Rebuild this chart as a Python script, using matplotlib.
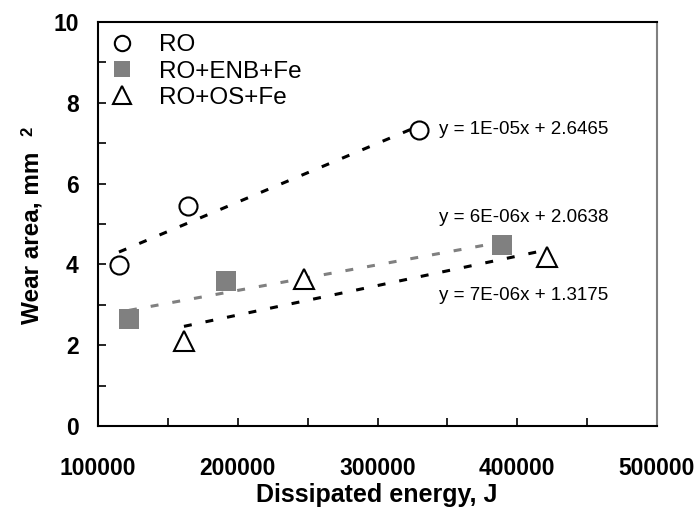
import numpy as np
import matplotlib
matplotlib.use('Agg')
import matplotlib.pyplot as plt

plt.rcParams['font.family'] = ['Liberation Sans', 'DejaVu Sans']

# data
ro_x = [115000, 164500, 329700]
ro_y = [3.98, 5.45, 7.33]
enb_x = [122200, 191600, 389100]
enb_y = [2.65, 3.59, 4.48]
os_x = [161500, 247400, 421300]
os_y = [2.10, 3.64, 4.18]

series_names = ['RO', 'RO+ENB+Fe', 'RO+OS+Fe']
eq_labels = ['y = 1E-05x + 2.6465', 'y = 6E-06x + 2.0638', 'y = 7E-06x + 1.3175']
eq_pos = [(344000, 7.33), (344000, 5.17), (344000, 3.24)]

x_ticks = [100000, 200000, 300000, 400000, 500000]
y_ticks = [0, 2, 4, 6, 8, 10]

fig = plt.figure(figsize=(7.0, 5.13), dpi=100)
ax = fig.add_axes([98 / 700, 1 - 426 / 513, (657 - 98) / 700, (426 - 22) / 513])

gray = '#808080'
trend_colors = ['black', gray, 'black']
series = [(ro_x, ro_y), (enb_x, enb_y), (os_x, os_y)]

# linear trend lines over the data range of each series
for (xs, ys), c in zip(series, trend_colors):
    xs = np.asarray(xs, dtype=float)
    k, b = np.polyfit(xs, ys, 1)
    xx = np.array([xs.min(), xs.max()])
    ax.plot(xx, k * xx + b, color=c, lw=2.2, dashes=(2.6, 4.6),
            dash_capstyle='butt', zorder=2)

ax.plot(ro_x, ro_y, 'o', ms=13, mfc='white', mec='black', mew=1.5,
        ls='none', label=series_names[0], zorder=3)
ax.plot(enb_x, enb_y, 's', ms=14, mfc=gray, mec=gray, mew=0,
        ls='none', label=series_names[1], zorder=3)
ax.plot(os_x, os_y, '^', ms=15, mfc='white', mec='black', mew=1.5,
        ls='none', label=series_names[2], zorder=3)

for txt, (tx, ty) in zip(eq_labels, eq_pos):
    ax.text(tx, ty, txt, fontsize=13.5, ha='left', va='center')

ax.set_xlim(100000, 500000)
ax.set_ylim(0, 10)
ax.set_xticks(x_ticks)
ax.set_xticks(np.arange(100000, 500001, 50000), minor=True)
ax.set_yticks(y_ticks)
ax.set_yticks(np.arange(0, 11, 1), minor=True)
ax.set_xticklabels([str(v) for v in x_ticks])
ax.tick_params(which='both', direction='in', length=6, width=1.2,
               labelsize=16.5, top=False, right=False)
ax.tick_params(axis='x', pad=22)
ax.tick_params(axis='y', pad=14)
for lab in ax.get_xticklabels() + ax.get_yticklabels():
    lab.set_fontweight('bold')

for side in ['left', 'bottom', 'top']:
    ax.spines[side].set_linewidth(1.5)
    ax.spines[side].set_color('black')
ax.spines['right'].set_linewidth(1.5)
ax.spines['right'].set_color(gray)

fig.text(377 / 700, 1 - 495 / 513, 'Dissipated energy, J', fontsize=18,
         fontweight='bold', ha='center', va='center')
fig.text(32 / 700, 1 - 238 / 513, 'Wear area, mm', fontsize=17.5,
         fontweight='bold', rotation=90, ha='center', va='center')
fig.text(28 / 700, 1 - 131 / 513, '2', fontsize=12,
         fontweight='bold', rotation=90, ha='center', va='center')

ax.legend(loc='upper left', bbox_to_anchor=(0.0, 1.0), frameon=False,
          fontsize=17.5, markerscale=0.85, handletextpad=1.0,
          borderaxespad=0.1, labelspacing=0.18, handlelength=1.0)

fig.savefig('out.png', dpi=100)
